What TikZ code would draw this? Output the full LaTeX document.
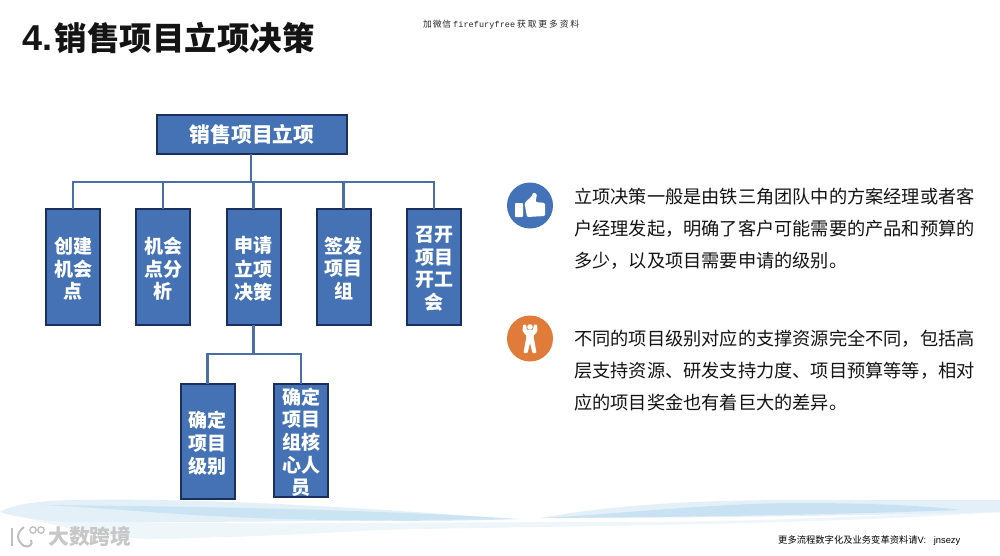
\documentclass[tikz,border=0pt]{standalone}
\usepackage{fontspec}
\setmainfont{Noto Sans CJK SC}
\newfontfamily\latinbold[BoldFont={Liberation Sans Bold}]{Liberation Sans}
\newfontfamily\monof{Liberation Mono}
\definecolor{boxfill}{HTML}{4472B4}
\definecolor{boxedge}{HTML}{1B2F5E}
\definecolor{linkcol}{HTML}{4A6EA6}
\definecolor{thumbblue}{HTML}{4472B8}
\definecolor{iconorange}{HTML}{E07B39}
\definecolor{waveA}{HTML}{C6E1F3}
\definecolor{waveB}{HTML}{E3F0F8}
\definecolor{waveC}{HTML}{EEF6FA}
\tikzset{
  orgbox/.style={draw=boxedge,line width=2pt,fill=boxfill,text=white,font=\fontsize{19}{22.2}\selectfont\bfseries,inner sep=0pt,outer sep=0pt},
  vbox/.style={orgbox,minimum width=54pt,minimum height=116pt},
  link/.style={draw=linkcol,line width=2.7pt},
  para/.style={anchor=west,inner sep=0pt,font=\fontsize{18.2}{20}\selectfont,text=black!92}
}
\newcommand{\vlines}[1]{\raisebox{-8.5pt}[40pt][40pt]{\begin{tabular}{@{}c@{}}#1\end{tabular}}}
\begin{document}
\begin{tikzpicture}[x=1pt,y=-1pt]
\useasboundingbox (0,0) rectangle (1000,555);
\fill[white] (0,0) rectangle (1000,555);
% waves: pale lower band
\fill[waveC] (0,510) .. controls (30,520) and (60,526) .. (64,527) .. controls (110,540) and (160,540) .. (190,538) .. controls (280,536) and (340,532) .. (380,530) .. controls (520,526) and (800,526) .. (1000,512) -- (1000,510) .. controls (800,520) and (700,522) .. (640,522) .. controls (450,522) and (300,524) .. (190,523) .. controls (100,522) and (40,518) .. (0,510) -- cycle;
% pale upper sheets
\fill[waveB] (0,512) .. controls (10,505) and (40,500) .. (80,500) .. controls (180,498) and (330,505) .. (497,518) .. controls (350,522) and (180,522) .. (64,522) .. controls (40,520) and (15,517) .. (0,512) -- cycle;
\fill[waveB] (540,518) .. controls (620,504) and (700,500) .. (800,500) -- (1000,500) -- (1000,512) .. controls (900,515) and (700,518) .. (540,518) -- cycle;
% stronger blue cores
\fill[waveA,opacity=.8] (40,505) .. controls (150,506) and (350,508) .. (520,519) .. controls (400,523) and (250,520) .. (150,512) .. controls (110,509) and (70,506) .. (40,505) -- cycle;
\fill[waveA,opacity=.9] (545,518) .. controls (640,512) and (720,503) .. (800,503) .. controls (860,503) and (920,505) .. (960,510) .. controls (860,514) and (700,517) .. (545,518) -- cycle;
% title & captions
\node[anchor=west,inner sep=0pt,font=\fontsize{32.5}{36}\selectfont\bfseries,text=black!92] (title) at (22,38) {{\fontsize{36}{36}\selectfont\latinbold\bfseries 4.}\hspace{2.5pt}销售项目立项决策};
\node[anchor=west,inner sep=0pt,font=\fontsize{8.8}{10}\selectfont,text=black!85] (wechat) at (423,25) {\makebox[28pt][s]{加\hfill 微\hfill 信}\hspace{2pt}\makebox[62pt][s]{\monof\fontsize{8.5}{10}\selectfont f\hfill i\hfill r\hfill e\hfill f\hfill u\hfill r\hfill y\hfill f\hfill r\hfill e\hfill e}\hspace{2pt}\makebox[62pt][s]{获\hfill 取\hfill 更\hfill 多\hfill 资\hfill 料}};
\node[anchor=west,inner sep=0pt,font=\fontsize{9.3}{11}\selectfont,text=black] (more) at (778,541) {更多流程数字化及业务变革资料请{\latinbold V:\ \ \ jnsezy}};
% org chart
\node[orgbox,minimum width=190pt,minimum height=39pt,font=\fontsize{20.8}{24}\selectfont\bfseries] (top) at (252,134.5) {销售项目立项};
\node[vbox] (n1) at (73,267) {\vlines{创建\\机会\\点}};
\node[vbox] (n2) at (163,267) {\vlines{机会\\点分\\析}};
\node[vbox] (n3) at (253.5,267) {\vlines{申请\\立项\\决策}};
\node[vbox] (n4) at (343.5,267) {\vlines{签发\\项目\\组}};
\node[vbox] (n5) at (434,267) {\vlines{召开\\项目\\开工\\会}};
\node[vbox,minimum height=115pt] (c1) at (207.5,441.5) {\vlines{确定\\项目\\级别}};
\node[vbox,minimum height=113pt] (c2) at (301,440.5) {\vlines{确定\\项目\\组核\\心人\\员}};
\coordinate (busA) at (251,182);
\coordinate (busB) at (253.5,354);
\draw[link] (top.south -| busA) -- (busA);
\draw[link] (n1.north) -- (n1.north |- busA) -- (n5.north |- busA) -- (n5.north);
\draw[link] (n2.north) -- (n2.north |- busA);
\draw[link] (n3.north) -- (n3.north |- busA);
\draw[link] (n4.north) -- (n4.north |- busA);
\draw[link] (n3.south) -- (busB);
\draw[link] (c1.north) -- (c1.north |- busB) -- (c2.north |- busB) -- (c2.north);
% icons
\fill[thumbblue] (530,205.5) circle[radius=23];
\fill[white,rounded corners=.8pt] (515,203) rectangle (523,217);
\fill[white,rounded corners=1.2pt] (524.5,203) -- (532,196) -- (533,192.5) -- (537,194) -- (535.5,202) -- (545,203) -- (545,216) -- (527,217) -- cycle;
\fill[iconorange] (530,338.5) circle[radius=23];
\fill[white] (530,327) circle[radius=2.8];
\fill[white,rounded corners=.8pt] (523,324.5) -- (526,324.5) -- (527,330) -- (533,330) -- (534,324.5) -- (537,324.5) -- (537.5,331) -- (533.5,336) -- (536.5,353) -- (532.5,353) -- (530,343) -- (527.5,353) -- (523.5,353) -- (526.5,336) -- (522.5,331) -- cycle;
% body
\node[para] (p1a) at (574,197) {立项决策一般是由铁三角团队中的方案经理或者客};
\node[para] (p1b) at (574,229) {户经理发起，明确了客户可能需要的产品和预算的};
\node[para] (p1c) at (574,261) {多少，以及项目需要申请的级别。};
\node[para] (p2a) at (574,339) {不同的项目级别对应的支撑资源完全不同，包括高};
\node[para] (p2b) at (574,371) {层支持资源、研发支持力度、项目预算等等，相对};
\node[para] (p2c) at (574,403) {应的项目奖金也有着巨大的差异。};
% watermark
\draw[black!25,line width=2pt] (12,528) -- (12,546);
\draw[black!25,line width=2pt] (24,527) .. controls (16,533) and (16,540) .. (24,546) .. controls (30,548) and (33,544) .. (31,540);
\draw[black!25,line width=1.3pt] (33,530) circle[radius=3.2];
\draw[black!25,line width=1.3pt] (41,530) circle[radius=3.2];
\node[anchor=west,inner sep=0pt,font=\fontsize{20.8}{22}\selectfont\bfseries,text=black!22] (brand) at (48,537) {大数跨境};
\end{tikzpicture}
\end{document}
